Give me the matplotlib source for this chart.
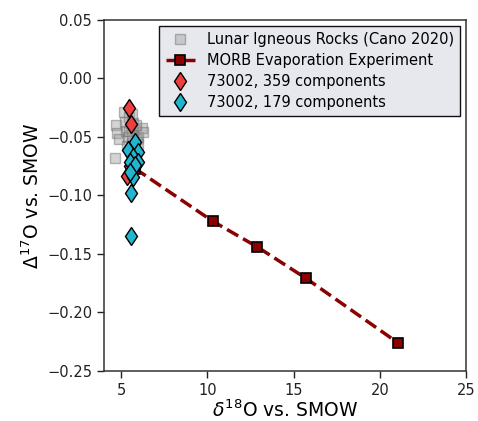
import matplotlib
matplotlib.use("Agg")
import matplotlib.pyplot as plt
import numpy as np

# Lunar igneous rocks (Cano 2020)
lunar_d18O = [4.64, 4.70, 4.75, 4.85, 5.16, 5.22, 5.30, 5.40, 5.45, 5.55, 5.60, 5.65, 5.70,
              5.75, 5.80, 5.90, 6.00, 6.20, 6.26, 5.35, 5.50, 5.85, 5.95, 5.60, 5.45]
lunar_D17O = [-0.068, -0.040, -0.047, -0.052, -0.029, -0.037, -0.045, -0.050, -0.033, -0.042,
              -0.055, -0.048, -0.038, -0.060, -0.044, -0.052, -0.050, -0.042, -0.046, -0.058,
              -0.062, -0.040, -0.056, -0.030, -0.045]

# MORB evaporation experiment
morb_d18O = [5.8, 10.30, 12.89, 15.73, 21.05]
morb_D17O = [-0.077, -0.122, -0.144, -0.171, -0.226]

# 73002, 359 components
c359_d18O = [5.45, 5.57, 5.35, 5.50, 5.60, 5.70]
c359_D17O = [-0.025, -0.039, -0.083, -0.075, -0.065, -0.058]

# 73002, 179 components
c179_d18O = [5.80, 5.39, 5.97, 5.70, 5.99, 5.51, 5.80, 5.70, 5.51, 5.55, 5.57]
c179_D17O = [-0.054, -0.061, -0.063, -0.067, -0.071, -0.071, -0.074, -0.084, -0.080, -0.098, -0.135]

fig = plt.figure(figsize=(4.78, 4.21), dpi=100)
ax = fig.add_axes([0.2176, 0.119, 0.7574, 0.8335])

ax.plot(lunar_d18O, lunar_D17O, linestyle="none", marker="s", markersize=7,
        markerfacecolor="#a0a0a0", markeredgecolor="#666666", alpha=0.45,
        label="Lunar Igneous Rocks (Cano 2020)", zorder=2)
ax.plot(morb_d18O, morb_D17O, linestyle="--", color="#8b0000", linewidth=2.5,
        marker="s", markersize=6.5, markerfacecolor="#8b0000", markeredgecolor="black",
        markeredgewidth=1.2, label="MORB Evaporation Experiment", zorder=3)
ax.plot(c359_d18O, c359_D17O, linestyle="none", marker="d", markersize=9.5,
        markerfacecolor="#ef4040", markeredgecolor="black", markeredgewidth=1.0,
        label="73002, 359 components", zorder=4)
ax.plot(c179_d18O, c179_D17O, linestyle="none", marker="d", markersize=9.5,
        markerfacecolor="#21b6d0", markeredgecolor="black", markeredgewidth=1.0,
        label="73002, 179 components", zorder=5)

ax.set_xlim(4, 25)
ax.set_ylim(-0.25, 0.05)
ax.set_xticks([5, 10, 15, 20, 25])
ax.set_yticks([0.05, 0.00, -0.05, -0.10, -0.15, -0.20, -0.25])
ax.set_yticklabels(["0.05", "0.00", "\u22120.05", "\u22120.10", "\u22120.15", "\u22120.20", "\u22120.25"])
ax.tick_params(labelsize=10.5, length=5, width=1, colors="#222222")
for s in ax.spines.values():
    s.set_color("#333333")
    s.set_linewidth(1.1)

ax.set_xlabel(r"$\delta^{18}$O vs. SMOW", fontsize=13.5, labelpad=1)
ax.set_ylabel(r"$\Delta^{17}$O vs. SMOW", fontsize=13.5, labelpad=3)

leg = ax.legend(loc="upper right", fontsize=10.5, frameon=True, fancybox=False,
                facecolor="#e6e8ee", edgecolor="#111111", framealpha=1.0,
                borderpad=0.45, handletextpad=0.8, labelspacing=0.4,
                borderaxespad=0.4)
leg.get_frame().set_linewidth(1.0)

fig.savefig("out.png", dpi=100)
